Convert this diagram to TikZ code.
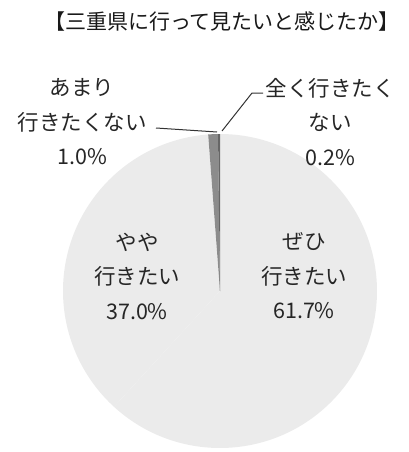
\documentclass[tikz,border=0pt]{standalone}
\usepackage{fontspec}
\newfontfamily\jp{Noto Sans CJK JP}
\begin{document}
\begin{tikzpicture}[x=1pt,y=-1pt,
  lbl/.style={font=\jp\fontsize{21.5}{34.5}\selectfont, align=center, text=black!85, inner sep=0pt},
  ttl/.style={font=\jp\fontsize{21}{24}\selectfont, text=black!90, inner sep=0pt},
  lead/.style={draw=black!80, line width=1pt},
  slice/.style={fill=black!8},
  thin/.style={fill=black!45}]
\useasboundingbox (0,0) rectangle (408,452);
\coordinate (c) at (220,291);
% pie (angles negated because y axis points down)
\fill[slice] (c) -- +(-227.52:157) arc[start angle=-227.52, end angle=-450, radius=157] -- cycle;
\fill[slice] (c) -- +(-94.32:157) arc[start angle=-94.32, end angle=-227.52, radius=157] -- cycle;
\fill[thin] (c) -- +(-90.72:157) arc[start angle=-90.72, end angle=-94.32, radius=157] -- cycle;
\fill[black!60] (c) -- +(-90:157) arc[start angle=-90, end angle=-90.72, radius=157] -- cycle;
% title
\node[ttl] (t) at (222,22) {【三重県に行って見たいと感じたか】};
% labels
\node[lbl] (l1) at (82,122) {あまり\\行きたくない\\1.0\%};
\node[lbl] (l2) at (330,122) {全く行きたく\\ない\\0.2\%};
\node[lbl] (l3) at (137,276) {やや\\行きたい\\37.0\%};
\node[lbl] (l4) at (304,276) {ぜひ\\行きたい\\61.7\%};
% leader lines
\coordinate (a0) at (156,128);
\coordinate (a1) at (217,132);
\draw[lead] (a0) -- (a1);
\coordinate (b0) at (222,131);
\coordinate (b1) at (252,93);
\coordinate (b2) at (263,93);
\draw[lead] (b0) -- (b1) -- (b2);
\end{tikzpicture}
\end{document}
